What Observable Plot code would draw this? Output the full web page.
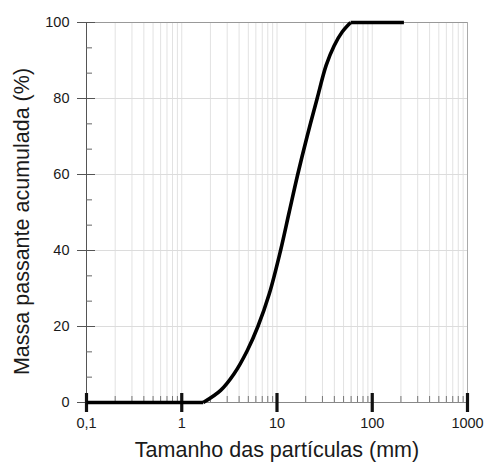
<!DOCTYPE html>
<html>
<head>
<meta charset="utf-8">
<script src="https://cdn.jsdelivr.net/npm/d3@7"></script>
<script src="https://cdn.jsdelivr.net/npm/@observablehq/plot@0.6"></script>
<style>
  html, body { margin: 0; padding: 0; background: #fff; }
  svg { display: block; }
</style>
</head>
<body>
<div id="chart"></div>
<script>
// Particle size (mm) and cumulative passing mass (%)
const sizeMm = [0.1, 1.68, 2.56, 3.53, 4.88, 6.3, 8.3, 10.9, 13.4, 16.5, 20.7, 26.4, 32.8, 39.8, 48.3, 59.3, 215];
const passing = [0, 0, 3.2, 7.5, 13.7, 20, 28.6, 40, 50, 60, 70, 80, 88.7, 93.9, 97.5, 100, 100];

const xMajorTicks = [0.1, 1, 10, 100, 1000];
const xTickLabels = ["0,1", "1", "10", "100", "1000"];
const yMajorTicks = [0, 20, 40, 60, 80, 100];
const yMinorTicks = [6.67, 13.33, 26.67, 33.33, 46.67, 53.33, 66.67, 73.33, 86.67, 93.33];
const xMinorMultipliers = [2, 3, 4, 5, 6, 7, 8, 9];
const xTitle = "Tamanho das partículas (mm)";
const yTitle = "Massa passante acumulada (%)";

const decades = [0.1, 1, 10, 100];
const xMinorTicks = decades.flatMap(d => xMinorMultipliers.map(m => +(d * m).toPrecision(3)));

const data = sizeMm.map((x, i) => ({x, y: passing[i]}));
const n = data.length;
const lowFlat = data.slice(0, 2);
const rising = data.slice(1, n - 1);
const highFlat = data.slice(n - 2);
const font = "Liberation Sans, Arial, Helvetica, sans-serif";
const lineStyle = {x: "x", y: "y", stroke: "#000", strokeWidth: 3.6, strokeLinejoin: "round", strokeLinecap: "butt"};

const chart = Plot.plot({
  width: 485,
  height: 465,
  marginLeft: 86,
  marginRight: 18,
  marginTop: 22,
  marginBottom: 63,
  style: {fontFamily: font, fontSize: "14.5px", color: "#1a1a1a", background: "#fff"},
  x: {type: "log", domain: [0.1, 1000]},
  y: {domain: [0, 100]},
  marks: [
    // grid
    Plot.ruleX(xMinorTicks.concat([1, 10, 100]), {stroke: "#e2e2e2", strokeWidth: 1}),
    Plot.ruleY([20, 40, 60, 80], {stroke: "#dcdcdc", strokeWidth: 1}),
    // frame top/right
    Plot.ruleY([100], {stroke: "#999", strokeWidth: 1}),
    Plot.ruleX([1000], {stroke: "#aaa", strokeWidth: 1}),
    // axes lines
    Plot.ruleY([0], {stroke: "#888", strokeWidth: 1}),
    Plot.ruleX([0.1], {stroke: "#555", strokeWidth: 1}),
    // y axis
    Plot.axisY({ticks: yMajorTicks, tickSize: 9, tickPadding: 8, stroke: "#555", label: null, fontSize: 14.5}),
    Plot.axisY({ticks: yMajorTicks, tickSize: -9, text: null, label: null, stroke: "#555"}),
    Plot.axisY({ticks: yMinorTicks, tickSize: -6, text: null, label: null, stroke: "#666"}),
    // x axis
    Plot.axisX({ticks: xMajorTicks, tickSize: 10, strokeWidth: 3.2, stroke: "#111", tickPadding: 5,
      tickFormat: (d) => xTickLabels[xMajorTicks.indexOf(d)],
      label: null}),
    Plot.axisX({ticks: xMajorTicks, tickSize: -9, strokeWidth: 3.2, stroke: "#111", text: null, label: null}),
    Plot.axisX({ticks: xMinorTicks, tickSize: -6, stroke: "#777", text: null, label: null}),
    Plot.text([xTitle], {frameAnchor: "bottom", dy: 54, fontSize: 21.5, fill: "#1a1a1a"}),
    Plot.text([yTitle], {frameAnchor: "left", textAnchor: "middle", rotate: -90, dx: -64, dy: 9, fontSize: 21.5, fill: "#1a1a1a"}),
    // curve
    Plot.line(lowFlat, {...lineStyle, curve: "linear"}),
    Plot.line(rising, {...lineStyle, curve: "catmull-rom"}),
    Plot.line(highFlat, {...lineStyle, curve: "linear"})
  ]
});

document.getElementById("chart").appendChild(chart);
</script>
</body>
</html>
